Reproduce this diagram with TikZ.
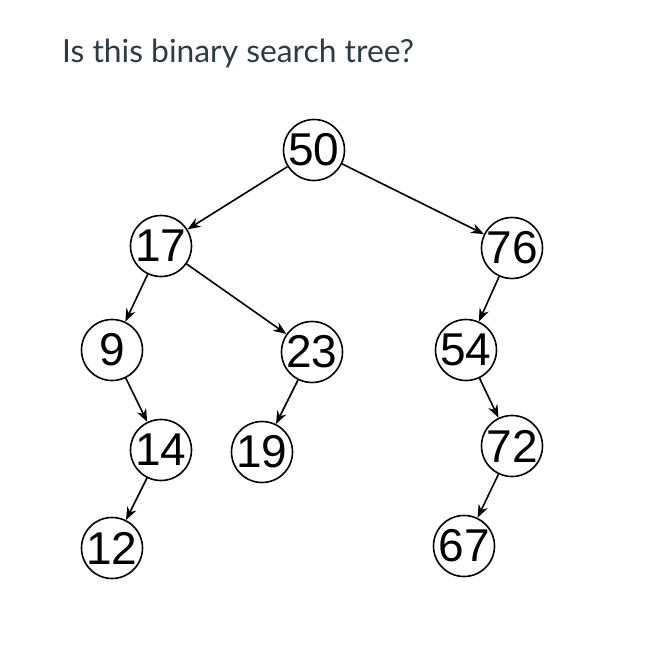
\documentclass[tikz,border=0pt]{standalone}
\usepackage{fontspec}
\setmainfont{Liberation Sans}
\newfontfamily\titlefont{Lato}
\usetikzlibrary{arrows.meta}
\definecolor{titlecol}{HTML}{2D3B45}
\begin{document}
\begin{tikzpicture}[x=1pt,y=-1pt,
  bst/.style={circle,draw=black,line width=1.6pt,minimum size=61pt,inner sep=0pt,
    font=\fontsize{46}{46}\selectfont},
  edge/.style={draw=black,line width=1.6pt,-{Stealth[length=13pt,width=10pt]}}]
\useasboundingbox (0,0) rectangle (664,666);
\node[anchor=base west,inner sep=0pt,text=titlecol,font=\titlefont\fontsize{31.8}{32}\selectfont] (title) at (62,63) {Is this binary search tree?};
\node[bst] (n50) at (314,150) {50};
\node[bst] (n17) at (161,246) {17};
\node[bst] (n76) at (512,248) {76};
\node[bst] (n9) at (112,350) {9};
\node[bst] (n23) at (312,352) {23};
\node[bst] (n54) at (466,350) {54};
\node[bst] (n14) at (161,450) {14};
\node[bst] (n19) at (262,452) {19};
\node[bst] (n72) at (512,446) {72};
\node[bst] (n12) at (112,548) {12};
\node[bst] (n67) at (464,546) {67};
\draw[edge] (n50) -- (n17);
\draw[edge] (n50) -- (n76);
\draw[edge] (n17) -- (n9);
\draw[edge] (n17) -- (n23);
\draw[edge] (n9) -- (n14);
\draw[edge] (n14) -- (n12);
\draw[edge] (n23) -- (n19);
\draw[edge] (n76) -- (n54);
\draw[edge] (n54) -- (n72);
\draw[edge] (n72) -- (n67);
\end{tikzpicture}
\end{document}
